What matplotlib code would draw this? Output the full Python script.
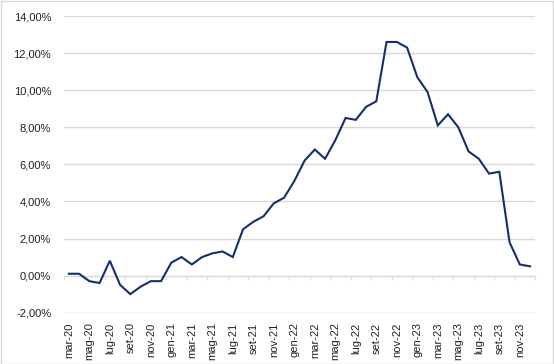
import matplotlib.pyplot as plt
from matplotlib.ticker import FuncFormatter, FixedLocator
from matplotlib.patches import Rectangle

plt.rcParams['font.family'] = ['Liberation Sans', 'DejaVu Sans']

# mesi da mar-20 a dic-23
month_names = ["gen", "feb", "mar", "apr", "mag", "giu",
               "lug", "ago", "set", "ott", "nov", "dic"]
months = []
for year in range(20, 24):
    for m in month_names:
        months.append(f"{m}-{year}")
months = months[2:]

inflation = [0.1, 0.1, -0.3, -0.4, 0.8, -0.5, -1.0, -0.6, -0.3, -0.3,
             0.7, 1.0, 0.6, 1.0, 1.2, 1.3, 1.0, 2.5, 2.9, 3.2, 3.9, 4.2,
             5.1, 6.2, 6.8, 6.3, 7.3, 8.5, 8.4, 9.1, 9.4, 12.6, 12.6, 12.3,
             10.7, 9.9, 8.1, 8.7, 8.0, 6.7, 6.3, 5.5, 5.6, 1.8, 0.6, 0.5]

x = list(range(len(months)))

fig = plt.figure(figsize=(5.54, 3.64), dpi=100)
ax = fig.add_axes([0.115, 0.141, 0.851, 0.815])

ax.plot(x, inflation, color='#13306b', linewidth=1.5, solid_joinstyle='miter')

ax.set_xlim(-0.5, len(months) - 0.5)
ax.set_ylim(-2, 14)
ax.set_yticks(range(-2, 15, 2))
ax.yaxis.set_major_formatter(FuncFormatter(lambda v, p: f"{v:.2f}%".replace('.', ',')))
ax.yaxis.grid(True, color='#d9d9d9', linewidth=1)
ax.set_axisbelow(True)
for s in ax.spines.values():
    s.set_visible(False)
ax.tick_params(axis='y', length=0, pad=9, labelsize=8, labelcolor='#222222')

# etichette mesi in basso, ogni 2 mesi
ax.set_xticks(x[::2])
ax.set_xticklabels(months[::2], rotation=90, fontsize=8, color='#222222')
ax.tick_params(axis='x', length=0, pad=7)

# asse orizzontale sullo zero con tacche tra le categorie
zero_frac = (0 - (-2)) / (14 - (-2))
sec = ax.secondary_xaxis(zero_frac)
sec.spines['bottom'].set_color('#d9d9d9')
sec.xaxis.set_major_locator(FixedLocator([i - 0.5 for i in range(0, len(months) + 1, 2)]))
sec.tick_params(axis='x', length=3, color='#d9d9d9', labelbottom=False)

fig.patches.append(Rectangle((0.001, 0.001), 0.997, 0.996, transform=fig.transFigure,
                             fill=False, edgecolor='#d9d9d9', linewidth=1))

fig.savefig("out.png", dpi=100)
